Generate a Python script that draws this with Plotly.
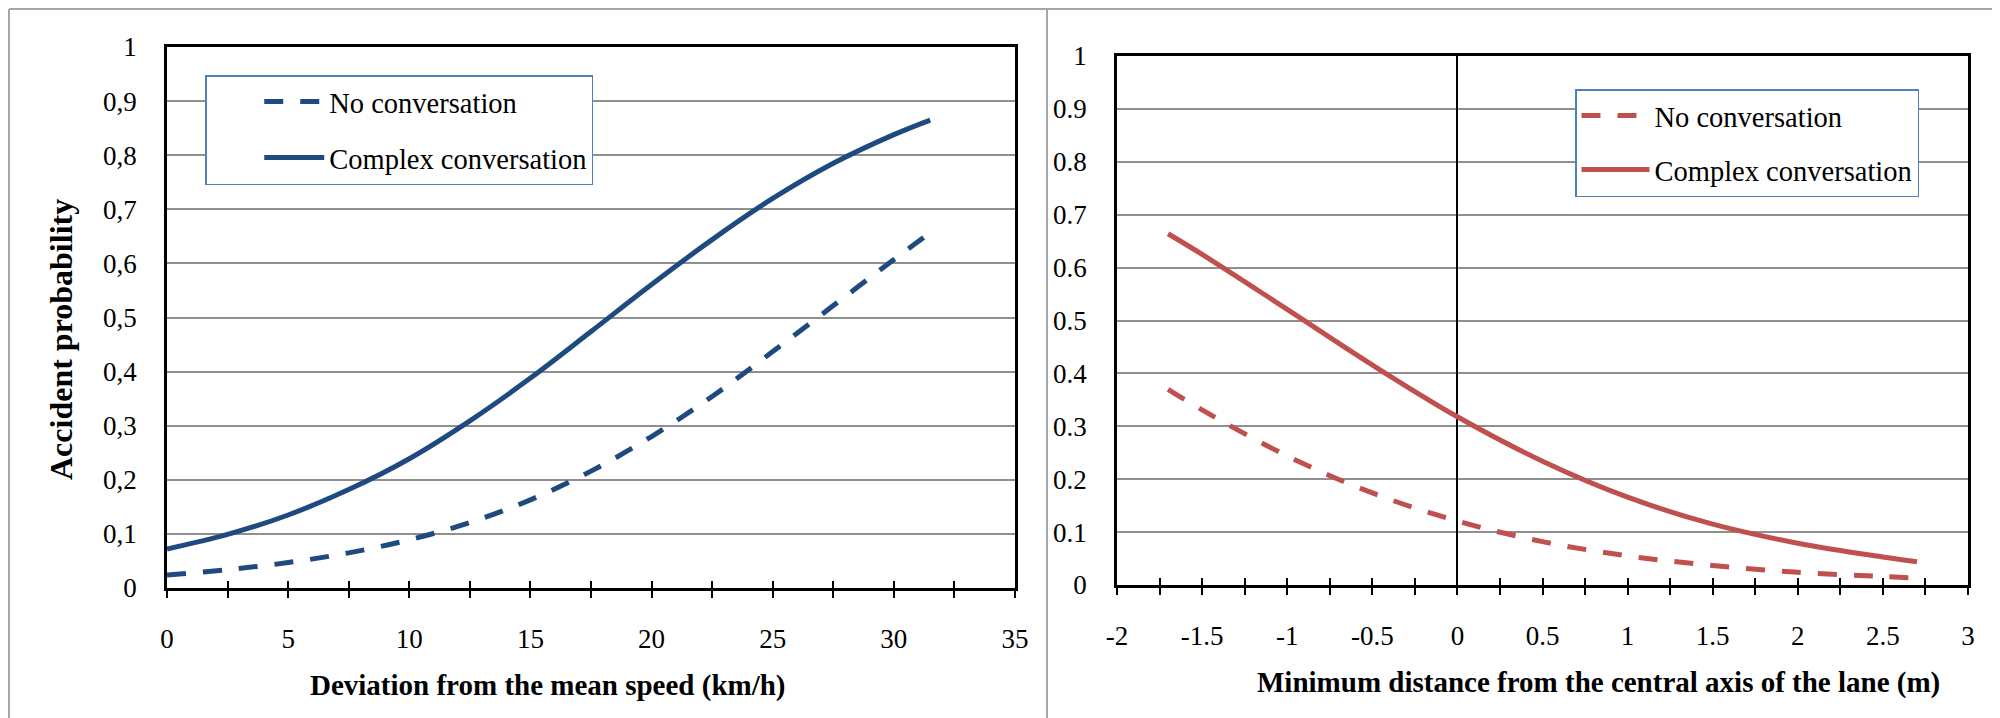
import plotly.graph_objects as go

# ---------------- data ----------------
speed_x = [0, 2.5, 5, 7.5, 10, 12.5, 15, 17.5, 20, 22.5, 25, 27.5, 30, 31.5]
speed_no_conv = [0.024, 0.034, 0.047, 0.065, 0.089, 0.121, 0.163, 0.216, 0.280, 0.354, 0.437, 0.522, 0.607, 0.657]
speed_complex = [0.072, 0.099, 0.135, 0.182, 0.239, 0.309, 0.388, 0.474, 0.561, 0.644, 0.720, 0.785, 0.838, 0.865]

dist_x = [-1.7, -1.5, -1.0, -0.5, 0, 0.5, 1.0, 1.5, 2.0, 2.5, 2.7]
dist_no_conv = [0.370, 0.331, 0.244, 0.174, 0.121, 0.082, 0.055, 0.037, 0.024, 0.016, 0.013]
dist_complex = [0.664, 0.625, 0.521, 0.416, 0.318, 0.234, 0.166, 0.115, 0.079, 0.053, 0.044]

y_ticks = [0, 0.1, 0.2, 0.3, 0.4, 0.5, 0.6, 0.7, 0.8, 0.9, 1]
y_ticktext_left = ["0", "0,1", "0,2", "0,3", "0,4", "0,5", "0,6", "0,7", "0,8", "0,9", "1"]
y_ticktext_right = ["0", "0.1", "0.2", "0.3", "0.4", "0.5", "0.6", "0.7", "0.8", "0.9", "1"]
x_ticks_left = [0, 5, 10, 15, 20, 25, 30, 35]
x_ticks_right = [-2, -1.5, -1, -0.5, 0, 0.5, 1, 1.5, 2, 2.5, 3]
x_ticktext_right = ["-2", "-1.5", "-1", "-0.5", "0", "0.5", "1", "1.5", "2", "2.5", "3"]

series_names = ["No conversation", "Complex conversation"]
xtitle_left = "Deviation from the mean speed (km/h)"
xtitle_right = "Minimum distance from the central axis of the lane (m)"
ytitle_left = "Accident probability"

# ---------------- style ----------------
OFF = 8                      # page body margin of the html page
W, H = 2000 - OFF, 718 - OFF
FONT = "Liberation Serif"
BLUE = "#1F4A80"
RED = "#C0504D"
GRID = "#8f8f8f"
LEG_BORDER = "#4F81BD"
DASH = "19px,17px"
LW = 5


def px_x(p):
    return (p - OFF) / W


def px_y(p):
    return 1 - (p - OFF) / H


L_dom_x = [px_x(167), px_x(1015)]
L_dom_y = [px_y(588), px_y(47)]
R_dom_x = [px_x(1117), px_x(1968)]
R_dom_y = [px_y(585), px_y(56)]

fig = go.Figure()

fig.add_trace(go.Scatter(x=speed_x, y=speed_no_conv, mode="lines", name=series_names[0],
                         line=dict(color=BLUE, width=LW, dash=DASH, shape="spline"),
                         xaxis="x", yaxis="y", legend="legend", legendgroup="a"))
fig.add_trace(go.Scatter(x=speed_x, y=speed_complex, mode="lines", name=series_names[1],
                         line=dict(color=BLUE, width=LW, shape="spline"),
                         xaxis="x", yaxis="y", legend="legend", legendgroup="b"))
fig.add_trace(go.Scatter(x=dist_x, y=dist_no_conv, mode="lines", name=series_names[0],
                         line=dict(color=RED, width=LW, dash=DASH, shape="spline"),
                         xaxis="x2", yaxis="y2", legend="legend2", legendgroup="c"))
fig.add_trace(go.Scatter(x=dist_x, y=dist_complex, mode="lines", name=series_names[1],
                         line=dict(color=RED, width=LW, shape="spline"),
                         xaxis="x2", yaxis="y2", legend="legend2", legendgroup="d"))

tickfont = dict(family=FONT, size=27, color="black")

common_x = dict(showline=True, linecolor="black", linewidth=2.5, mirror=True,
                ticks="outside", ticklen=7, tickwidth=2, tickcolor="black",
                showgrid=False, tickfont=tickfont, ticklabelstandoff=18, automargin=False)
common_y = dict(showline=True, linecolor="black", linewidth=2.5, mirror=True,
                ticks="", showgrid=True, gridcolor=GRID, gridwidth=2,
                tickfont=tickfont, ticklabelstandoff=22, zeroline=False, automargin=False,
                range=[0, 1], tickmode="array", tickvals=y_ticks)

legend_font = dict(family=FONT, size=28.5, color="black")

fig.update_layout(
    width=W, height=H,
    margin=dict(l=0, r=0, t=0, b=0, pad=0, autoexpand=False),
    paper_bgcolor="white", plot_bgcolor="white",
    font=dict(family=FONT, color="black"),
    xaxis=dict(domain=L_dom_x, anchor="y", range=[0, 35], tickmode="array",
               tickvals=x_ticks_left, zeroline=False,
               minor=dict(dtick=2.5, tick0=0, ticks="outside", ticklen=7, tickwidth=2,
                          tickcolor="black", showgrid=False),
               **common_x),
    yaxis=dict(domain=L_dom_y, anchor="x", ticktext=y_ticktext_left, **common_y),
    xaxis2=dict(domain=R_dom_x, anchor="y2", range=[-2, 3], tickmode="array",
                tickvals=x_ticks_right, ticktext=x_ticktext_right,
                zeroline=True, zerolinecolor="black", zerolinewidth=2,
                minor=dict(dtick=0.25, tick0=0, ticks="outside", ticklen=7, tickwidth=2,
                           tickcolor="black", showgrid=False),
                **common_x),
    yaxis2=dict(domain=R_dom_y, anchor="x2", ticktext=y_ticktext_right, **common_y),
    # overlay axes: inner halves of the crossing tick marks
    xaxis3=dict(overlaying="x", matches="x", anchor="y", side="bottom", showline=False,
                showgrid=False, zeroline=False, showticklabels=False, automargin=False,
                tickmode="linear", dtick=2.5, tick0=0, ticks="inside", ticklen=7,
                tickwidth=2, tickcolor="black"),
    xaxis4=dict(overlaying="x2", matches="x2", anchor="y2", side="bottom", showline=False,
                showgrid=False, zeroline=False, showticklabels=False, automargin=False,
                tickmode="linear", dtick=0.25, tick0=0, ticks="inside", ticklen=7,
                tickwidth=2, tickcolor="black"),
    legend=dict(x=px_x(205), y=px_y(75), xanchor="left", yanchor="top",
                bgcolor="white", bordercolor=LEG_BORDER, borderwidth=1.5,
                font=legend_font,
                title=dict(text="\u00a0" * 6, side="left", font=legend_font),
                traceorder="grouped", tracegroupgap=16, itemwidth=60),
    legend2=dict(x=px_x(1575), y=px_y(89), xanchor="left", yanchor="top",
                 bgcolor="white", bordercolor=LEG_BORDER, borderwidth=1.5,
                 font=legend_font,
                 traceorder="grouped", tracegroupgap=14, itemwidth=68),
    showlegend=True,
)

# invisible helper traces so overlay axes are drawn
fig.add_trace(go.Scatter(x=[speed_x[0]], y=[speed_complex[0]], xaxis="x3", yaxis="y",
                         mode="markers", marker=dict(opacity=0), showlegend=False,
                         hoverinfo="skip"))
fig.add_trace(go.Scatter(x=[dist_x[0]], y=[dist_complex[0]], xaxis="x4", yaxis="y2",
                         mode="markers", marker=dict(opacity=0), showlegend=False,
                         hoverinfo="skip"))

# axis titles
fig.add_annotation(text="<b>" + xtitle_left + "</b>", xref="paper", yref="paper",
                   x=px_x(548), y=px_y(685), xanchor="center", yanchor="middle",
                   showarrow=False, font=dict(family=FONT, size=29, color="black"))
fig.add_annotation(text="<b>" + xtitle_right + "</b>", xref="paper", yref="paper",
                   x=px_x(1598), y=px_y(682), xanchor="center", yanchor="middle",
                   showarrow=False, font=dict(family=FONT, size=29, color="black"))
fig.add_annotation(text="<b>" + ytitle_left + "</b>", xref="paper", yref="paper",
                   x=px_x(61), y=px_y(340), xanchor="center", yanchor="middle",
                   showarrow=False, textangle=-90,
                   font=dict(family=FONT, size=32, color="black"))

# panel frames
frame = dict(type="line", xref="paper", yref="paper", line=dict(color="#a6a6a6", width=2))
fig.add_shape(x0=px_x(9), x1=1, y0=px_y(9), y1=px_y(9), **frame)
fig.add_shape(x0=px_x(9), x1=px_x(9), y0=px_y(9), y1=0, **frame)
fig.add_shape(x0=px_x(1047), x1=px_x(1047), y0=px_y(9), y1=0, **frame)

fig.write_html("out.html")
